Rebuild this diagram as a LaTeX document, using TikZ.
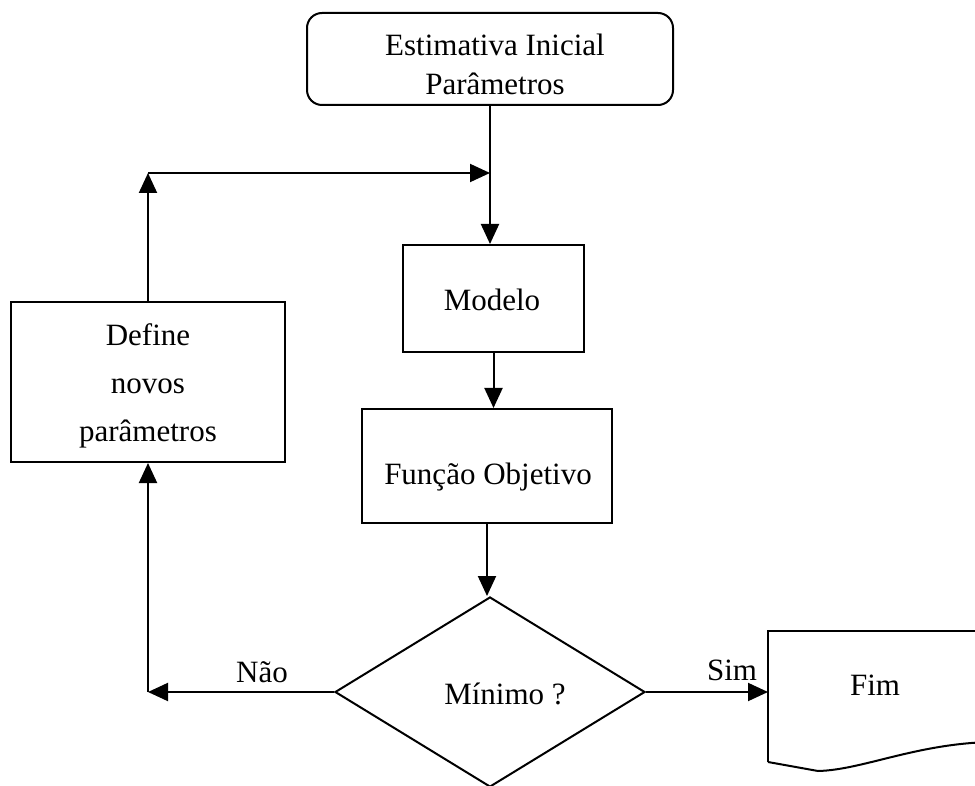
\documentclass[tikz,border=0pt]{standalone}
\usepackage{fontspec}
\setmainfont{Liberation Serif}
\usetikzlibrary{arrows.meta,shapes.geometric,calc}
\begin{document}
\begin{tikzpicture}[x=1pt,y=-1pt,
  lw/.style={line width=2pt},
  box/.style={draw, line width=2pt, inner sep=0pt},
  txt/.style={font=\fontsize{31}{39}\selectfont, inner sep=0pt, align=center},
  arr/.style={line width=2pt, -{Triangle[length=20pt,width=18pt]}}
]
\useasboundingbox (0,0) rectangle (975,786);
\clip (0,0) rectangle (975,786);
% boxes
\node[box, rounded corners=15pt, minimum width=366pt, minimum height=92pt] (top) at (490,59) {};
\node[txt] (toptxt) at (495,64) {Estimativa Inicial\\Parâmetros};
\node[box, minimum width=181pt, minimum height=107pt] (modelo) at (493.5,298.5) {};
\node[txt] (modelotxt) at (492,300) {Modelo};
\node[box, minimum width=250pt, minimum height=114pt] (func) at (487,466) {};
\node[txt] (functxt) at (488,477) {Função Objetivo};
\node[box, minimum width=274pt, minimum height=160pt] (define) at (148,382) {};
\node[txt, font=\fontsize{31}{48}\selectfont] (definetxt) at (148,386) {Define\\novos\\parâmetros};
\node[draw, diamond, lw, minimum width=310pt, minimum height=190pt, inner sep=0pt] (dec) at (490,692) {};
\node[txt] (dectxt) at (505,694) {Mínimo ?};
% Fim document
\draw[lw] (768,762) -- (768,631) -- (990,631);
\draw[lw] (768,762) -- (818,771) .. controls (862,770) and (915,744) .. (990,742);
\coordinate (fimw) at (768,692);
\node[txt] (fimtxt) at (875,685) {Fim};
% connectors
\coordinate (jy) at (0,173);
\coordinate (j) at (top.south |- jy);
\coordinate (jl) at (define.north |- jy);
\draw[arr] (top.south) -- (top.south |- modelo.north);
\draw[arr] (define.north) -- (jl);
\draw[arr] (jl) -- (j);
\draw[arr] (modelo.south) -- (modelo.south |- func.north);
\draw[arr] (func.south) -- (func.south |- dec.north);
\coordinate (nl) at (define.south |- dec.west);
\draw[arr] (dec.west) -- (nl);
\draw[arr] (nl) -- (define.south);
\draw[arr] (dec.east) -- (fimw);
\node[txt] (nao) at (262,672) {Não};
\node[txt] (sim) at (732,670) {Sim};
\end{tikzpicture}
\end{document}
